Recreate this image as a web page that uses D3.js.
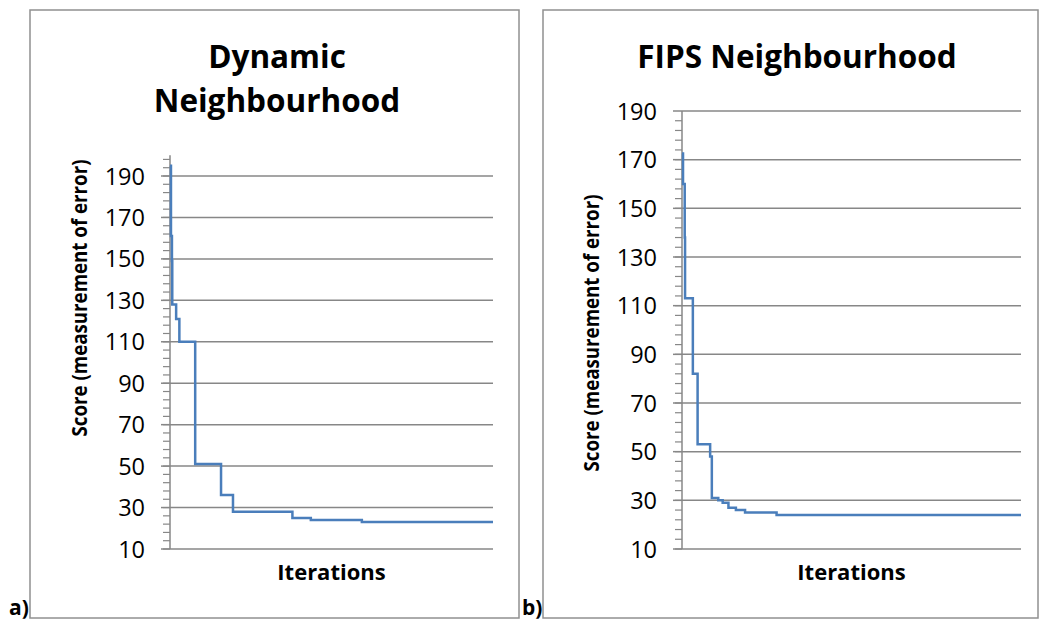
<!DOCTYPE html>
<html>
<head>
<meta charset="utf-8">
<script src="https://cdn.jsdelivr.net/npm/d3@7"></script>
<style>
  body { margin: 0; background: #fff; }
  text { font-family: "Open Sans", "Noto Sans", sans-serif; }
</style>
</head>
<body>
<svg id="chart" width="1041" height="622"></svg>
<script>
// step data: iteration at which the best score changes, and the new score
const dynamicIter = [0, 3, 6, 7, 19, 29, 78, 158, 195, 379, 436, 594, 1000];
const dynamicScore = [195, 161, 149, 128, 121, 110, 51, 36, 28, 25, 24, 23, 23];

const fipsIter = [0, 3, 8, 9, 32, 46, 83, 88, 107, 120, 137, 159, 186, 279, 1000];
const fipsScore = [172.5, 160, 138, 113, 82, 53, 48, 31, 30, 29, 27, 26, 25, 24, 24];

const majorTicks = [10, 30, 50, 70, 90, 110, 130, 150, 170, 190];
const maxIter = 1000;

const svg = d3.select('#chart');
const grey = '#878787';
const blue = '#4a7ebb';

function drawPanel(p) {
    const g = svg.append('g');

    // outer frame
    g.append('rect')
        .attr('x', p.box[0]).attr('y', p.box[1])
        .attr('width', p.box[2]).attr('height', p.box[3])
        .attr('fill', 'none').attr('stroke', '#909090').attr('stroke-width', 1.5);

    g.append('text')
        .attr('x', p.box[0] - 21).attr('y', 615)
        .attr('font-size', 21).attr('font-weight', 'bold')
        .text(p.tag);

    const x = d3.scaleLinear().domain([0, maxIter]).range([p.left, p.right]);
    const y = d3.scaleLinear().domain([10, 190]).range([549, p.top190]);

    // gridlines
    g.selectAll('.grid').data(majorTicks).join('line')
        .attr('x1', p.left).attr('x2', p.right)
        .attr('y1', d => y(d)).attr('y2', d => y(d))
        .attr('stroke', grey).attr('stroke-width', 1.5);

    // minor ticks every 4 units
    const minor = d3.range(10, p.axisMax - 1, 4);
    g.selectAll('.minor').data(minor).join('line')
        .attr('x1', p.left - 7).attr('x2', p.left)
        .attr('y1', d => y(d)).attr('y2', d => y(d))
        .attr('stroke', grey).attr('stroke-width', 1.2);

    g.selectAll('.major').data(majorTicks).join('line')
        .attr('x1', p.left - 9).attr('x2', p.left)
        .attr('y1', d => y(d)).attr('y2', d => y(d))
        .attr('stroke', grey).attr('stroke-width', 1.5);

    // y axis line
    g.append('line')
        .attr('x1', p.left).attr('x2', p.left)
        .attr('y1', y(10)).attr('y2', y(p.axisMax))
        .attr('stroke', grey).attr('stroke-width', 1.5);

    g.selectAll('.lbl').data(majorTicks).join('text')
        .attr('x', p.left - 25).attr('y', d => y(d) + 8.5)
        .attr('text-anchor', 'end').attr('font-size', 23.5)
        .text(d => d);

    // series
    const pts = p.iter.map((it, i) => [it, p.score[i]]);
    const line = d3.line()
        .x(d => x(d[0])).y(d => y(d[1]))
        .curve(d3.curveStepAfter);
    g.append('path').datum(pts)
        .attr('d', line)
        .attr('fill', 'none').attr('stroke', blue).attr('stroke-width', 2.5);

    // titles
    p.title.forEach((t, i) => {
        g.append('text')
            .attr('x', p.titleX).attr('y', 68 + i * 44)
            .attr('text-anchor', 'middle').attr('font-size', 31.5).attr('font-weight', 'bold')
            .text(t);
    });

    g.append('text')
        .attr('x', (p.left + p.right) / 2).attr('y', 580)
        .attr('text-anchor', 'middle').attr('font-size', 22).attr('font-weight', 'bold')
        .text('Iterations');

    g.append('text')
        .attr('transform', `translate(${p.left - 83},${p.yTitleMid}) rotate(-90)`)
        .attr('text-anchor', 'middle').attr('font-size', 20.5).attr('font-weight', 'bold')
        .attr('textLength', 277).attr('lengthAdjust', 'spacingAndGlyphs')
        .text('Score (measurement of error)');
}

drawPanel({
    box: [30, 10, 489, 608], tag: 'a)',
    left: 170, right: 493, top190: 176, axisMax: 200,
    iter: dynamicIter, score: dynamicScore,
    title: ['Dynamic', 'Neighbourhood'], titleX: 277, yTitleMid: 298
});

drawPanel({
    box: [543, 10, 495, 608], tag: 'b)',
    left: 682, right: 1021, top190: 111, axisMax: 190,
    iter: fipsIter, score: fipsScore,
    title: ['FIPS Neighbourhood'], titleX: 797, yTitleMid: 333
});
</script>
</body>
</html>
